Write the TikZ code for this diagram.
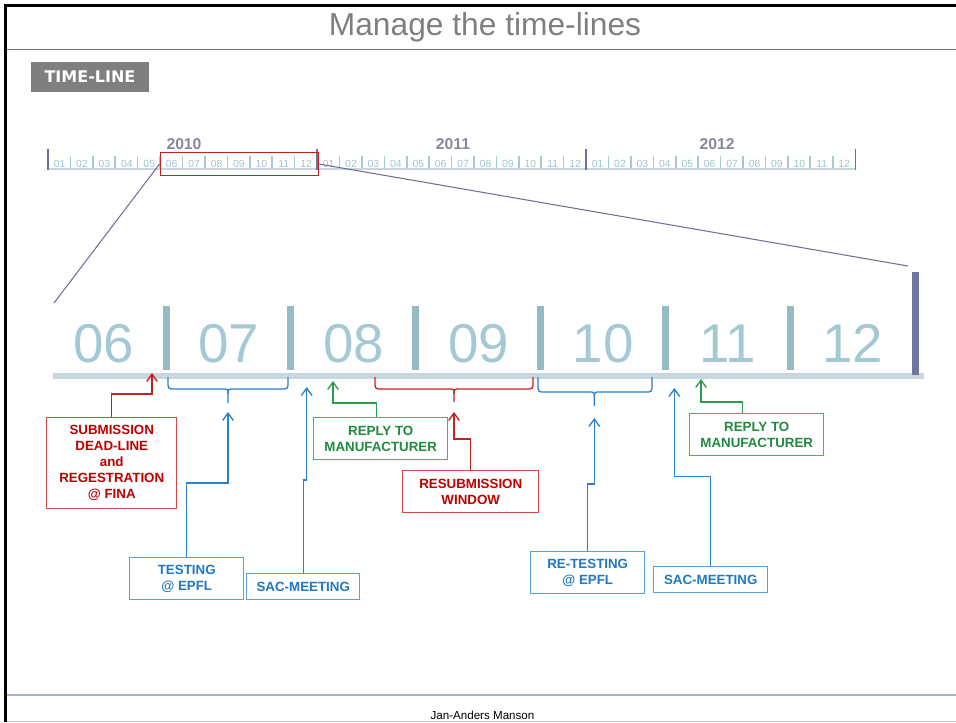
\documentclass[tikz,border=0pt]{standalone}
\usepackage{fontspec}
\setmainfont{Liberation Sans}
\newfontfamily\tagfont{DejaVu Sans}
\usetikzlibrary{arrows.meta}

\newlength\px
\setlength\px{0.75pt}

\definecolor{titlegray}{HTML}{7F7F7F}
\definecolor{slate}{HTML}{6E7299}
\definecolor{yeargray}{HTML}{8A879C}
\definecolor{monthblue}{HTML}{9FC3CF}
\definecolor{tickblue}{HTML}{A9C8D0}
\definecolor{baseblue}{HTML}{C5D6DE}
\definecolor{bignumblue}{HTML}{A4C8D4}
\definecolor{barblue}{HTML}{97BBC5}
\definecolor{lineblue}{HTML}{C8D6E0}
\definecolor{endbar}{HTML}{6F76A0}
\definecolor{txtred}{HTML}{C00000}
\definecolor{linered}{HTML}{C81E1E}
\definecolor{boxred}{HTML}{D24B4B}
\definecolor{txtblue}{HTML}{1F78C1}
\definecolor{lineblue2}{HTML}{2A80CC}
\definecolor{boxblue}{HTML}{5AA0DA}
\definecolor{txtgreen}{HTML}{1E8B3E}
\definecolor{linegreen}{HTML}{2E9A4E}
\definecolor{boxgreen}{HTML}{4CAF6E}
\definecolor{footline}{HTML}{A7AFC9}

\tikzset{
  notebox/.style={draw, line width=1.1pt, fill=white, inner sep=0pt, anchor=north west,
    align=center, font=\fontsize{10}{12}\selectfont\bfseries},
  redbox/.style={notebox, draw=boxred, text=txtred},
  bluebox/.style={notebox, draw=boxblue, text=txtblue},
  greenbox/.style={notebox, draw=boxgreen, text=txtgreen},
  link/.style={line width=1pt, -{Straight Barb[length=5.5pt,width=8pt]}},
  redlink/.style={link, draw=linered},
  bluelink/.style={link, draw=lineblue2},
  greenlink/.style={link, draw=linegreen},
  bracket/.style={line width=1pt, rounded corners=2.5pt},
  monthlbl/.style={inner sep=0pt, text=monthblue, font=\fontsize{7.8}{9}\selectfont},
  yearlbl/.style={inner sep=0pt, text=yeargray, font=\fontsize{11.8}{13}\selectfont\bfseries},
  bignum/.style={inner sep=0pt, text=bignumblue, font=\fontsize{41}{45}\selectfont},
}

\begin{document}
\begin{tikzpicture}[x=0.75pt, y=-0.75pt]
	\useasboundingbox (0,0) rectangle (956,722);

	% page frame and title
	\draw[line width=2.4pt] (5.5,722) -- (5.5,5.5) -- (956,5.5);
	\node[anchor=base, text=titlegray, font=\fontsize{23.8}{28}\selectfont] (title) at (485,35) {Manage the time-lines};
	\draw[slate, line width=1.1pt] (7,49.3) -- (956,49.3);

	\node[fill=titlegray, text=white, minimum width=118\px, minimum height=30\px, inner sep=0pt,
		font=\tagfont\fontsize{12}{14}\selectfont\bfseries] (tltag) at (90,77) {TIME-LINE};

	% small time-line
	\draw[baseblue, line width=1.5pt] (48,168.5) -- (855,168.5);
	\foreach \k in {1,...,35}{
			\draw[tickblue, line width=1.2pt] (48+22.42*\k,155.5) -- (48+22.42*\k,167.5);
		}
	\foreach \k in {0,12,24,36}{
			\draw[slate, line width=0.9pt] (48+22.42*\k,149) -- (48+22.42*\k,169.5);
		}
	\foreach \y in {0,1,2}{
			\foreach \lbl [count=\i from 0] in {01,02,03,04,05,06,07,08,09,10,11,12}{
					\node[monthlbl] (mon-\y-\i) at (59.6+22.42*\i+269*\y,163.5) {\lbl};
				}
		}
	\foreach \yr/\x in {2010/184, 2011/453, 2012/717}{
			\node[yearlbl] (yr-\yr) at (\x,144) {\yr};
		}

	\node[draw=linered, line width=1pt, minimum width=158\px, minimum height=22.5\px, inner sep=0pt] (zoomwin) at (239.2,164) {};

	% zoomed time-line
	\coordinate (zoomL) at (54,303);
	\coordinate (zoomR) at (908,266);
	\draw[slate, line width=0.8pt] (zoomwin.west) -- (zoomL);
	\draw[slate, line width=0.8pt] (zoomwin.east) -- (zoomR);

	\fill[lineblue] (53,373) rectangle (924,379);
	\foreach \i in {0,...,5}{
			\fill[barblue] (162.5+124.8*\i,306) rectangle ++(7,64);
		}
	\fill[endbar] (912,272) rectangle (919,375);
	\foreach \lbl [count=\i from 0] in {06,07,08,09,10,11,12}{
			\node[bignum, anchor=base] (big-\i) at (104+124.8*\i,362) {\lbl};
		}

	% brackets
	\foreach \a/\m/\b/\h/\t/\col in {168/228/288/389/403/lineblue2, 375/454/533/389/402/linered, 538/594.3/652/392/406/lineblue2}{
			\draw[bracket, \col] (\a,377) |- (\m-6,\h) .. controls (\m-1,\h) and (\m,\h+1) .. (\m,\h+5) -- (\m,\t);
			\draw[bracket, \col] (\b,377) |- (\m+6,\h) .. controls (\m+1,\h) and (\m,\h+1) .. (\m,\h+5);
		}

	% arrow tips
	\coordinate (tipSubm) at (152,373);
	\coordinate (tipTest) at (228,412);
	\coordinate (tipSacA) at (306.7,387);
	\coordinate (tipReplyA) at (333,381);
	\coordinate (tipResub) at (454,412);
	\coordinate (tipRetest) at (594.3,418);
	\coordinate (tipSacB) at (674.3,388);
	\coordinate (tipReplyB) at (701,379);

	% notes
	\node[redbox, minimum width=130\px, minimum height=91\px] (subm) at (46,417)
		{SUBMISSION\\DEAD-LINE\\and\\REGESTRATION\\@ FINA};
	\node[bluebox, minimum width=114\px, minimum height=42\px] (testing) at (129,557) {TESTING\\@ EPFL};
	\node[bluebox, minimum width=113\px, minimum height=26\px] (sacA) at (246,573) {SAC-MEETING};
	\node[greenbox, minimum width=134\px, minimum height=42\px] (replyA) at (313,417) {REPLY TO\\MANUFACTURER};
	\node[redbox, minimum width=136\px, minimum height=42\px] (resub) at (402,470) {RESUBMISSION\\WINDOW};
	\node[bluebox, minimum width=114\px, minimum height=42\px] (retest) at (530,551) {RE-TESTING\\@ EPFL};
	\node[bluebox, minimum width=114\px, minimum height=26\px] (sacB) at (653,566) {SAC-MEETING};
	\node[greenbox, minimum width=134\px, minimum height=42\px] (replyB) at (689,413) {REPLY TO\\MANUFACTURER};

	\draw[redlink] (subm.north) -- ++(0,-23) -| (tipSubm);
	\draw[bluelink] (testing.north) -- ++(0,-74) -| (tipTest);
	\draw[bluelink] (sacA.north) -- ++(0,-93) -| (tipSacA);
	\draw[greenlink] ([xshift=-4\px]replyA.north) -- ++(0,-14) -| (tipReplyA);
	\draw[redlink] (resub.north) -- ++(0,-31) -| (tipResub);
	\draw[bluelink] (retest.north) -- ++(0,-67) -| (tipRetest);
	\draw[bluelink] (sacB.north) -- ++(0,-89.5) -| (tipSacB);
	\draw[greenlink] ([xshift=-14\px]replyB.north) -- ++(0,-11) -| (tipReplyB);

	% footer
	\draw[footline, line width=1.1pt] (7,695) -- (956,695);
	\node[font=\fontsize{8.7}{10}\selectfont, inner sep=0pt] (author) at (482.5,715) {Jan-Anders Manson};
	\draw[black!22, line width=0.8pt] (7,721.3) -- (956,721.3);
\end{tikzpicture}
\end{document}
